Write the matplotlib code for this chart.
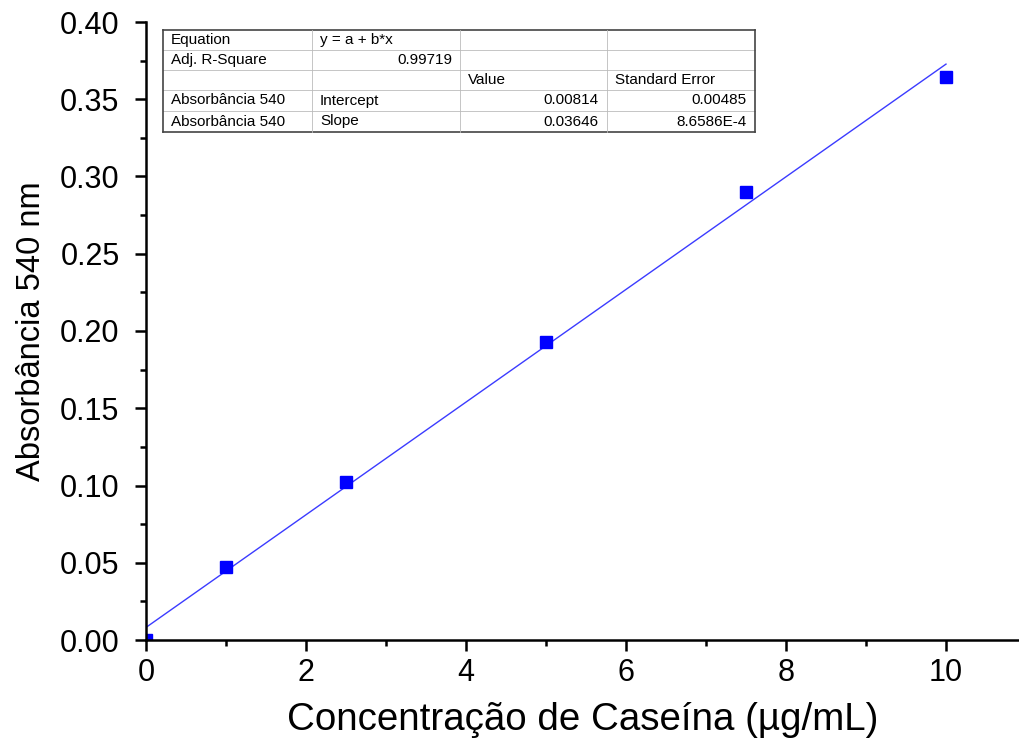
import matplotlib
matplotlib.use("Agg")
import matplotlib.pyplot as plt
from matplotlib.ticker import MultipleLocator, FormatStrFormatter
from matplotlib.lines import Line2D
from matplotlib.patches import Rectangle

# Data
conc = [0, 1, 2.5, 5, 7.5, 10]
absorb = [0.0, 0.0472, 0.1023, 0.1929, 0.290, 0.3644]
intercept = 0.00814
slope = 0.03646
fit_x = [0, 10]

table_rows = [
    ["Equation", "y = a + b*x", "", ""],
    ["Adj. R-Square", "0.99719", "", ""],
    ["", "", "Value", "Standard Error"],
    ["Absorbância 540", "Intercept", "0.00814", "0.00485"],
    ["Absorbância 540", "Slope", "0.03646", "8.6586E-4"],
]
right_aligned = {(1, 1), (3, 2), (3, 3), (4, 2), (4, 3)}

W, H = 1019, 742
fig = plt.figure(figsize=(W / 100, H / 100), dpi=100)
ax = fig.add_axes([146 / W, (H - 640) / H, (W - 146) / W, (640 - 22) / H])

regular = ["Liberation Sans", "DejaVu Sans"]

ax.plot(fit_x, [intercept + slope * x for x in fit_x], color="#3b3bff", lw=1.0, zorder=2)
ax.plot(conc, absorb, ls="none", marker="s", ms=8.5, color="#0000ff", zorder=3)

ax.set_xlim(0, (W - 146) / 80)
ax.set_ylim(0, 0.40)

for s in ["top", "right"]:
    ax.spines[s].set_visible(False)
for s in ["left", "bottom"]:
    ax.spines[s].set_linewidth(1.8)
    ax.spines[s].set_zorder(4)

ax.xaxis.set_major_locator(MultipleLocator(2))
ax.xaxis.set_minor_locator(MultipleLocator(1))
ax.yaxis.set_major_locator(MultipleLocator(0.05))
ax.yaxis.set_minor_locator(MultipleLocator(0.025))
ax.yaxis.set_major_formatter(FormatStrFormatter("%.2f"))

ax.tick_params(which="major", direction="out", length=8, width=1.8)
ax.tick_params(which="minor", direction="out", length=4.5, width=1.8)
ax.tick_params(axis="y", labelsize=22, pad=11)
ax.tick_params(axis="x", labelsize=22, pad=5)
for lab in ax.get_xticklabels() + ax.get_yticklabels():
    lab.set_family(regular)

ax.set_xlabel("Concentração de Caseína (µg/mL)", fontsize=27.7, family=regular, labelpad=10)
ax.set_ylabel("Absorbância 540 nm", fontsize=23.5, family=regular, labelpad=9)

# Results table (figure pixel coordinates)
col_edges = [163, 312, 460, 607, 755]
row_edges = [30, 50, 70, 90, 111, 132]

def fx(px):
    return px / W

def fy(py):
    return (H - py) / H

fig.add_artist(Rectangle((fx(col_edges[0]), fy(row_edges[-1])),
                         fx(col_edges[-1]) - fx(col_edges[0]),
                         fy(row_edges[0]) - fy(row_edges[-1]),
                         transform=fig.transFigure, facecolor="white", edgecolor="none", zorder=0.5))
for i, y in enumerate(row_edges):
    outer = i in (0, len(row_edges) - 1)
    fig.add_artist(Line2D([fx(col_edges[0]), fx(col_edges[-1])], [fy(y), fy(y)],
                          transform=fig.transFigure,
                          color="#444444" if outer else "#bbbbbb", lw=1.2 if outer else 0.6))
for j, x in enumerate(col_edges):
    outer = j in (0, len(col_edges) - 1)
    fig.add_artist(Line2D([fx(x), fx(x)], [fy(row_edges[0]), fy(row_edges[-1])],
                          transform=fig.transFigure,
                          color="#444444" if outer else "#bbbbbb", lw=1.2 if outer else 0.6))

for r, row in enumerate(table_rows):
    yc = fy((row_edges[r] + row_edges[r + 1]) / 2)
    for c, txt in enumerate(row):
        if not txt:
            continue
        if (r, c) in right_aligned:
            fig.text(fx(col_edges[c + 1] - 8), yc, txt, ha="right", va="center",
                     fontsize=11, family=regular)
        else:
            fig.text(fx(col_edges[c] + 8), yc, txt, ha="left", va="center",
                     fontsize=11, family=regular)

fig.savefig("out.png", dpi=100)
